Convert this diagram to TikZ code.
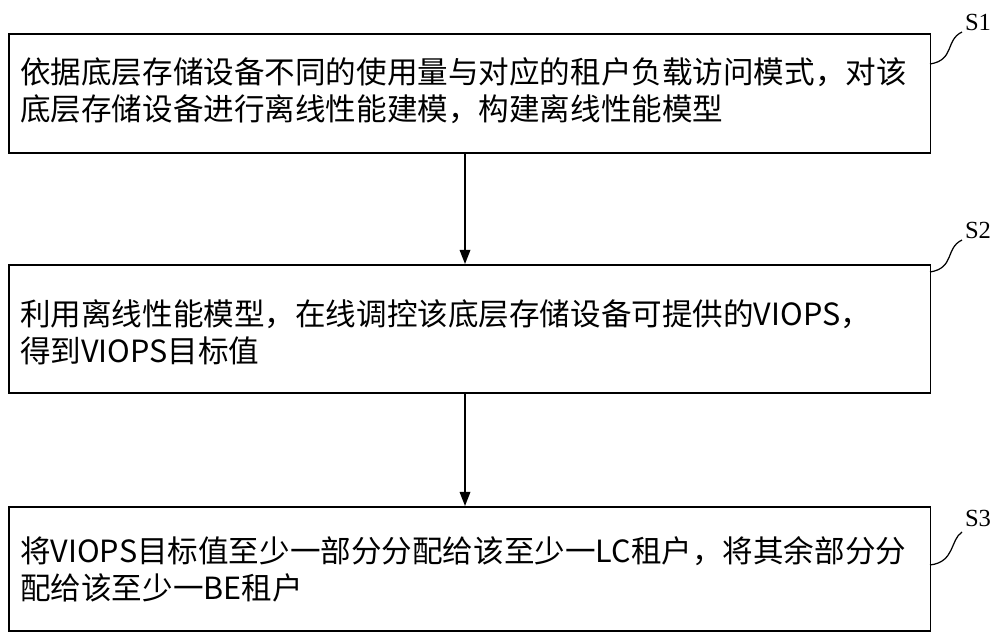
\documentclass[tikz,border=0pt]{standalone}
\usepackage{fontspec}
\setmainfont{Liberation Serif}
\newfontfamily\cjk{Noto Sans CJK SC}
\usetikzlibrary{arrows.meta}

\tikzset{
  stepbox/.style={draw, line width=0.9pt, minimum width=18.44cm, inner sep=0pt, anchor=north west},
  steptext/.style={anchor=west, align=left, font=\cjk\fontsize{17.4pt}{21pt}\selectfont},
  flow/.style={-{Triangle[length=8pt,width=6pt]}, line width=0.9pt},
  tick/.style={line width=0.7pt},
  steplabel/.style={font=\fontsize{14pt}{16pt}\selectfont}
}

\begin{document}
\begin{tikzpicture}[x=0.02cm,y=-0.02cm]
  \useasboundingbox (0,0) rectangle (1000,637);

  % step boxes
  \node[stepbox, minimum height=2.38cm] (b1) at (8,33) {};
  \node[stepbox, minimum height=2.56cm] (b2) at (8,264) {};
  \node[stepbox, minimum height=2.48cm] (b3) at (8,506) {};

  % texts
  \node[steptext] (t1) at (14,91) {依据底层存储设备不同的使用量与对应的租户负载访问模式，对该\\底层存储设备进行离线性能建模，构建离线性能模型};
  \node[steptext] (t2) at (14,332) {利用离线性能模型，在线调控该底层存储设备可提供的VIOPS，\\得到VIOPS目标值};
  \node[steptext] (t3) at (14,569) {将VIOPS目标值至少一部分分配给该至少一LC租户，将其余部分分\\配给该至少一BE租户};

  % connectors
  \draw[flow] (b1.south -| 465,0) -- (b2.north -| 465,0);
  \draw[flow] (b2.south -| 465,0) -- (b3.north -| 465,0);

  % step labels
  \node[steplabel] (s1) at (978,22) {S1};
  \node[steplabel] (s2) at (978,230) {S2};
  \node[steplabel] (s3) at (978,518) {S3};
  \draw[tick] (930,64) .. controls (955,60) and (945,40) .. (962,32);
  \draw[tick] (930,272) .. controls (955,268) and (945,248) .. (962,240);
  \draw[tick] (930,565) .. controls (955,562) and (950,540) .. (962,532);
\end{tikzpicture}
\end{document}
